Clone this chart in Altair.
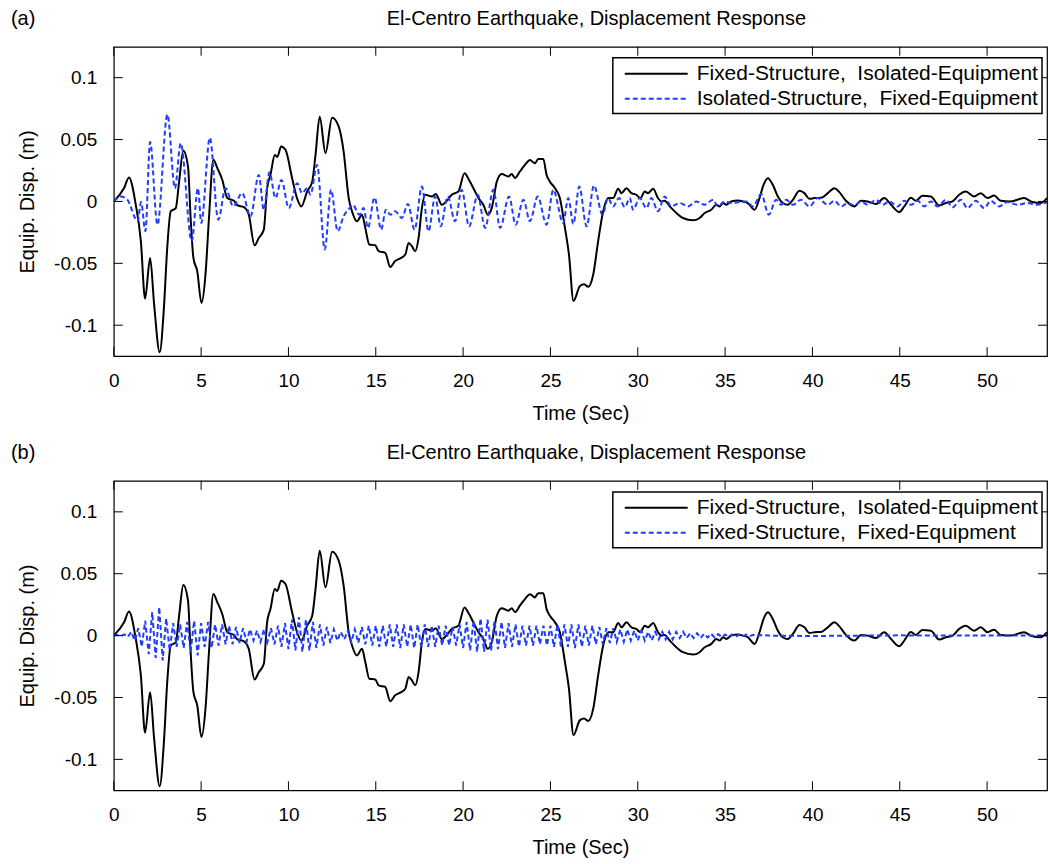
import altair as alt
import pandas as pd

# ---------------- data ----------------
black_t = [0, 0.59, 0.87, 1.26, 1.55, 1.79, 2.08, 2.31, 2.63, 2.87, 3.06, 3.26, 3.55, 3.74, 3.98,
           4.25, 4.40, 4.56, 4.78, 5.02, 5.25, 5.45, 5.70, 5.93, 6.21, 6.50, 6.88, 7.07, 7.45, 7.73,
           8.06, 8.30, 8.59, 8.78, 8.97, 9.22, 9.36, 9.58, 9.83, 10.21, 10.49, 10.74, 11.07, 11.36,
           11.55, 11.79, 12.12, 12.50, 12.88, 13.16, 13.45, 13.64, 13.92, 14.21, 14.40, 14.63, 14.97,
           15.16, 15.54, 15.83, 16.11, 16.40, 16.69, 16.88, 17.07, 17.26, 17.45, 17.64, 17.83, 18.21,
           18.44, 18.78, 19.07, 19.35, 19.73, 20.08, 20.34, 20.59, 20.88, 21.16, 21.41, 21.64, 21.93,
           22.21, 22.59, 22.78, 22.97, 23.26, 23.54, 23.83, 24.11, 24.30, 24.59, 24.78, 24.97, 25.26,
           25.54, 25.83, 26.06, 26.32, 26.69, 26.93, 27.16, 27.45, 27.73, 28.02, 28.30, 28.59, 28.88,
           29.07, 29.35, 29.64, 29.92, 30.15, 30.40, 30.59, 30.88, 31.16, 31.35, 31.54, 31.83, 32.21,
           32.59, 33.16, 33.54, 33.83, 34.21, 34.50, 34.69, 34.88, 35.07, 35.35, 35.73, 36.02, 36.30,
           36.69, 36.97, 37.20, 37.45, 37.73, 38.02, 38.30, 38.59, 38.88, 39.26, 39.54, 39.83, 40.11,
           40.50, 40.88, 41.26, 41.54, 41.92, 42.40, 42.78, 43.16, 43.64, 44.11, 44.50, 44.97, 45.26,
           45.64, 45.92, 46.30, 46.78, 47.26, 47.64, 48.02, 48.40, 48.78, 49.26, 49.64, 50.02, 50.40,
           50.78, 51.35, 52.11, 52.59, 53.07, 53.43]
black_v = [0, 0.0108, 0.0194, -0.0027, -0.032, -0.0785, -0.0457, -0.0833, -0.1218, -0.086, -0.0376,
           -0.008, -0.0054, 0.016, 0.0409, 0.0282, -0.0134, -0.0457, -0.0565, -0.082, -0.0591, -0.0134,
           0.0336, 0.0269, 0.0175, 0.0027, 0.0005, -0.003, -0.0046, -0.0108, -0.0355, -0.0296, -0.0228,
           0.0108, 0.0215, 0.0376, 0.036, 0.0444, 0.0417, 0.0188, 0.0027, -0.004, 0.008, 0.016, 0.0376,
           0.0685, 0.039, 0.0677, 0.0605, 0.0403, 0.0027, -0.008, -0.016, -0.0107, -0.0214, -0.0348,
           -0.0354, -0.0402, -0.0415, -0.053, -0.0482, -0.046, -0.0429, -0.0335, -0.0362, -0.0402,
           -0.0295, -0.0054, 0.0054, 0.004, 0.006, -0.0027, 0.0005, 0.0054, 0.008, 0.0228, 0.0174,
           0.0107, 0.0027, -0.0027, -0.0107, -0.0054, 0.016, 0.0222, 0.0201, 0.0222, 0.019, 0.0244,
           0.0295, 0.0335, 0.0308, 0.0343, 0.0343, 0.0214, 0.016, 0.0107, 0.0027, -0.0214, -0.0429,
           -0.0804, -0.0683, -0.067, -0.069, -0.059, -0.0322, -0.008, 0.0027, 0.0027, 0.0102, 0.0067,
           0.0107, 0.0067, 0.0054, 0.0027, 0.008, 0.0067, 0.0102, 0.0027, 0.0, 0.0005, -0.004, -0.0094,
           -0.0134, -0.0153, -0.0134, -0.0094, -0.0067, -0.0027, -0.004, -0.0013, -0.0027, 0.0, 0.0008,
           0.0, -0.0013, -0.0067, 0.0027, 0.0134, 0.0188, 0.0134, 0.004, -0.0013, -0.0027, 0.0013,
           0.0086, 0.0067, 0.0021, 0.0027, 0.003, 0.0067, 0.0107, 0.0075, 0.0005, -0.004, 0.0005, 0.0,
           -0.002, 0.0027, -0.0027, -0.0086, -0.004, 0.003, 0.0005, 0.0046, 0.004, -0.0032, -0.0013,
           0.0, 0.0054, 0.008, 0.004, 0.0067, 0.0027, 0.0048, 0.0005, 0.0, 0.0027, -0.0005, -0.0013,
           0.0027]

blue_a_t = [0, 0.40, 0.78, 1.37, 1.56, 1.81, 2.08, 2.50, 3.07, 3.50, 3.83, 4.46, 4.82, 5.01, 5.50,
            5.98, 6.40, 6.84, 7.35, 7.83, 8.30, 8.59, 8.91, 9.26, 9.60, 10.02, 10.50, 10.78, 11.07,
            11.26, 11.64, 12.08, 12.44, 12.82, 13.16, 13.50, 13.68, 14.06, 14.30, 14.55, 14.93, 15.31,
            15.58, 15.83, 16.11, 16.49, 16.84, 17.22, 17.64, 18.02, 18.40, 18.72, 19.12, 19.54, 19.92,
            20.34, 20.84, 21.26, 21.73, 22.12, 22.63, 23.01, 23.45, 23.83, 24.27, 24.78, 25.16, 25.73,
            26.02, 26.31, 26.65, 27.07, 27.49, 27.98, 28.30, 28.59, 28.93, 29.26, 29.54, 29.73, 30.11,
            30.50, 30.78, 31.16, 31.54, 31.92, 32.40, 32.88, 33.35, 33.83, 34.31, 34.59, 34.97, 35.35,
            35.83, 36.21, 36.59, 37.07, 37.50, 37.92, 38.21, 38.50, 38.88, 39.35, 39.83, 40.30, 40.88,
            41.26, 41.64, 42.02, 42.40, 42.78, 43.16, 43.64, 44.02, 44.40, 44.88, 45.26, 45.64, 46.02,
            46.40, 46.78, 47.16, 47.64, 48.02, 48.50, 48.88, 49.35, 49.83, 50.21, 50.69, 51.16, 51.73,
            52.30, 52.88, 53.43]
blue_a_v = [0, 0.004, 0.0013, -0.016, -0.0005, -0.024, 0.048, -0.0188, 0.0702, 0.0107, 0.0469,
            -0.0322, 0.0107, -0.0174, 0.0514, -0.0147, 0.0107, -0.004, 0.0067, -0.012, 0.0214, -0.0067,
            0.0236, 0.0027, 0.0174, -0.0054, 0.0147, 0.0067, 0.0107, 0.0054, 0.0295, -0.0388, 0.0094,
            -0.0241, -0.012, -0.0054, -0.0027, -0.0107, -0.0054, -0.0214, 0.0032, -0.0228, -0.0067,
            -0.0107, -0.008, -0.0134, -0.002, -0.0228, 0.012, -0.0241, 0.004, -0.0201, 0.004, -0.016,
            0.0094, -0.0201, 0.0054, -0.0214, 0.0094, -0.0214, 0.004, -0.0188, 0.0013, -0.016, 0.004,
            -0.0188, 0.0094, -0.0174, 0.0027, -0.0182, 0.012, -0.0201, 0.0129, -0.0107, 0.0027, -0.004,
            0.0027, -0.0046, 0.0027, -0.0067, 0.0027, -0.0054, 0.0027, -0.008, 0.004, -0.004, -0.0013,
            -0.004, 0.0, -0.0027, 0.0013, -0.004, 0.0, -0.0013, -0.0005, 0.0, -0.004, 0.006, -0.0107,
            0.0013, -0.0027, 0.0013, -0.0027, 0.0013, -0.004, 0.0027, -0.0027, 0.0005, -0.004, -0.0013,
            -0.0032, 0.0, -0.0027, 0.0013, -0.0027, 0.0, -0.004, 0.0005, -0.0027, 0.0005, -0.004, 0.0,
            -0.004, 0.0013, -0.0048, 0.0013, -0.0054, 0.0005, -0.0054, 0.0005, -0.004, -0.0005, -0.0027,
            -0.0013, -0.0027, -0.0005]

# panel (b) blue: one reading every 0.2 s up to 37 s, then a quiet tail
blue_b_step = 0.2
blue_b_v = [0, 0.0005, -0.0005, 0.001, -0.001,
            0.003, -0.004, 0.006, -0.009, 0.012,
            -0.015, 0.019, -0.018, 0.023, -0.020,
            0.014, -0.012, 0.010, -0.009, 0.009,
            -0.010, 0.011, -0.013, 0.012, -0.016,
            0.010, -0.009, 0.011, -0.010, 0.009,
            -0.008, 0.009, -0.007, 0.008, -0.007,
            0.007, -0.006, 0.006, -0.005, 0.005,
            -0.004, 0.004, -0.005, 0.005, -0.005,
            0.006, -0.007, 0.008, -0.009, 0.010,
            -0.011, 0.013, -0.012, 0.015, -0.013,
            0.013, -0.012, 0.011, -0.010, 0.009,
            -0.008, 0.007, -0.006, 0.005, -0.004,
            0.003, -0.003, 0.004, -0.005, 0.005,
            -0.006, 0.007, -0.007, 0.008, -0.008,
            0.008, -0.009, 0.008, -0.009, 0.009,
            -0.009, 0.009, -0.010, 0.009, -0.009,
            0.009, -0.010, 0.009, -0.009, 0.009,
            -0.009, 0.008, -0.009, 0.008, -0.008,
            0.008, -0.008, 0.007, -0.008, 0.009,
            -0.010, 0.011, -0.012, 0.012, -0.013,
            0.014, -0.013, 0.013, -0.012, 0.012,
            -0.011, 0.011, -0.010, 0.010, -0.009,
            0.009, -0.009, 0.008, -0.008, 0.008,
            -0.008, 0.008, -0.007, 0.008, -0.008,
            0.008, -0.009, 0.009, -0.009, 0.009,
            -0.009, 0.009, -0.010, 0.009, -0.009,
            0.008, -0.008, 0.008, -0.007, 0.007,
            -0.007, 0.006, -0.006, 0.006, -0.005,
            0.005, -0.005, 0.005, -0.004, 0.004,
            -0.004, 0.004, -0.004, 0.003, -0.004,
            0.003, -0.003, 0.003, -0.003, 0.003,
            -0.003, 0.003, -0.002, 0.003, -0.002,
            0.002, -0.002, 0.002, -0.002, 0.0015,
            -0.0015, 0.0015, -0.0015, 0.0012, -0.0012,
            0.001, -0.001, 0.001, -0.001, 0.0008,
            -0.0008, 0.0008, -0.0006, 0.0006, -0.0005,
            0.0005]
blue_b_tail_t = [37.5, 40.0, 45.0, 50.0, 53.43]
blue_b_tail_v = [0.0, -0.0003, 0.0002, 0.0, 0.0]

x_ticks = [0, 5, 10, 15, 20, 25, 30, 35, 40, 45, 50]
y_ticks = [-0.1, -0.05, 0, 0.05, 0.1]

name_fi = "Fixed-Structure,\u00a0 Isolated-Equipment"
name_if = "Isolated-Structure,\u00a0 Fixed-Equipment"
name_ff = "Fixed-Structure,\u00a0 Fixed-Equipment"
chart_title = "El-Centro Earthquake, Displacement Response"

# ---------------- styling ----------------
FONT = "Liberation Sans"
W, H = 935, 310
XMAX = 53.43
BLUE = "#1f3cff"
TICK = 9

black_df = pd.DataFrame({"t": black_t, "v": black_v})
blue_a_df = pd.DataFrame({"t": blue_a_t, "v": blue_a_v})
bt = [round(i * blue_b_step, 2) for i in range(len(blue_b_v))] + blue_b_tail_t
blue_b_df = pd.DataFrame({"t": bt, "v": blue_b_v + blue_b_tail_v})
xt_df = pd.DataFrame({"t": x_ticks})
yt_df = pd.DataFrame({"v": y_ticks})

xs = alt.Scale(domain=[0, XMAX], nice=False, zero=False)
ys = alt.Scale(domain=[-0.125, 0.125], nice=False, zero=False)
xaxis = alt.Axis(values=x_ticks, ticks=False, domain=False, grid=False, labelFontSize=19,
                 labelFont=FONT, labelColor="black", labelPadding=15, labelFlush=False,
                 title="Time (Sec)", titleFont=FONT, titleFontSize=20, titleFontWeight="normal",
                 titleColor="black", titlePadding=13)
yaxis = alt.Axis(values=y_ticks, ticks=False, domain=False, grid=False, labelFontSize=19,
                 labelFont=FONT, labelColor="black", labelPadding=17, labelFlush=False,
                 labelExpr="datum.value < 0 ? '-' + format(-datum.value, '~g') : format(datum.value, '~g')",
                 title="Equip. Disp. (m)", titleFont=FONT, titleFontSize=20, titleFontWeight="normal",
                 titleColor="black", titlePadding=16)
X = alt.X("t:Q", scale=xs, axis=xaxis)
Y = alt.Y("v:Q", scale=ys, axis=yaxis)


def one(label):
    return pd.DataFrame({"label": [label]})


def panel(tag, blue_df, blue_name, blue_interp):
    black_line = alt.Chart(black_df).mark_line(color="black", strokeWidth=2, clip=True,
                                               interpolate="monotone").encode(x=X, y=Y)
    blue_line = alt.Chart(blue_df).mark_line(color=BLUE, strokeWidth=2, strokeDash=[5, 3],
                                             clip=True, interpolate=blue_interp).encode(x=X, y=Y)
    xb = alt.Chart(xt_df).mark_rule(color="black", strokeWidth=1).encode(
        x=X, y=alt.value(H), y2=alt.value(H - TICK))
    xtop = alt.Chart(xt_df).mark_rule(color="black", strokeWidth=1).encode(
        x=X, y=alt.value(0), y2=alt.value(TICK))
    yl = alt.Chart(yt_df).mark_rule(color="black", strokeWidth=1).encode(
        y=Y, x=alt.value(0), x2=alt.value(TICK))
    yr = alt.Chart(yt_df).mark_rule(color="black", strokeWidth=1).encode(
        y=Y, x=alt.value(W - TICK), x2=alt.value(W))
    box = alt.Chart(one("")).mark_rect(fill="white", stroke="black", strokeWidth=1.5).encode(
        x=alt.value(500), x2=alt.value(930), y=alt.value(11), y2=alt.value(67))
    leg1_line = alt.Chart(one("")).mark_rule(color="black", strokeWidth=2).encode(
        x=alt.value(512), x2=alt.value(575), y=alt.value(27))
    leg2_line = alt.Chart(one("")).mark_rule(color=BLUE, strokeWidth=2, strokeDash=[5, 3]).encode(
        x=alt.value(512), x2=alt.value(575), y=alt.value(52))
    leg1_txt = alt.Chart(one(name_fi)).mark_text(
        align="left", baseline="middle", font=FONT, fontSize=21, color="black").encode(
        text="label:N", x=alt.value(584), y=alt.value(27))
    leg2_txt = alt.Chart(one(blue_name)).mark_text(
        align="left", baseline="middle", font=FONT, fontSize=21, color="black").encode(
        text="label:N", x=alt.value(584), y=alt.value(52))
    tag_txt = alt.Chart(one(tag)).mark_text(
        align="left", baseline="middle", font=FONT, fontSize=20, color="black").encode(
        text="label:N", x=alt.value(-103), y=alt.value(-28))
    title_txt = alt.Chart(one(chart_title)).mark_text(
        align="center", baseline="middle", font=FONT, fontSize=20, color="black").encode(
        text="label:N", x=alt.value(W / 2 + 16), y=alt.value(-28))
    return alt.layer(black_line, blue_line, xb, xtop, yl, yr, box, leg1_line, leg2_line,
                     leg1_txt, leg2_txt, tag_txt, title_txt).properties(width=W, height=H)


pa = panel("(a)", blue_a_df, name_if, "monotone")
pb = panel("(b)", blue_b_df, name_ff, "linear")

chart = alt.vconcat(pa, pb, spacing=18).properties(
    padding={"left": 10, "top": 7, "right": 0, "bottom": 0}
).configure_view(stroke="black", strokeWidth=1.2)

chart.save("out.html", embed_options={"renderer": "svg", "actions": False})
